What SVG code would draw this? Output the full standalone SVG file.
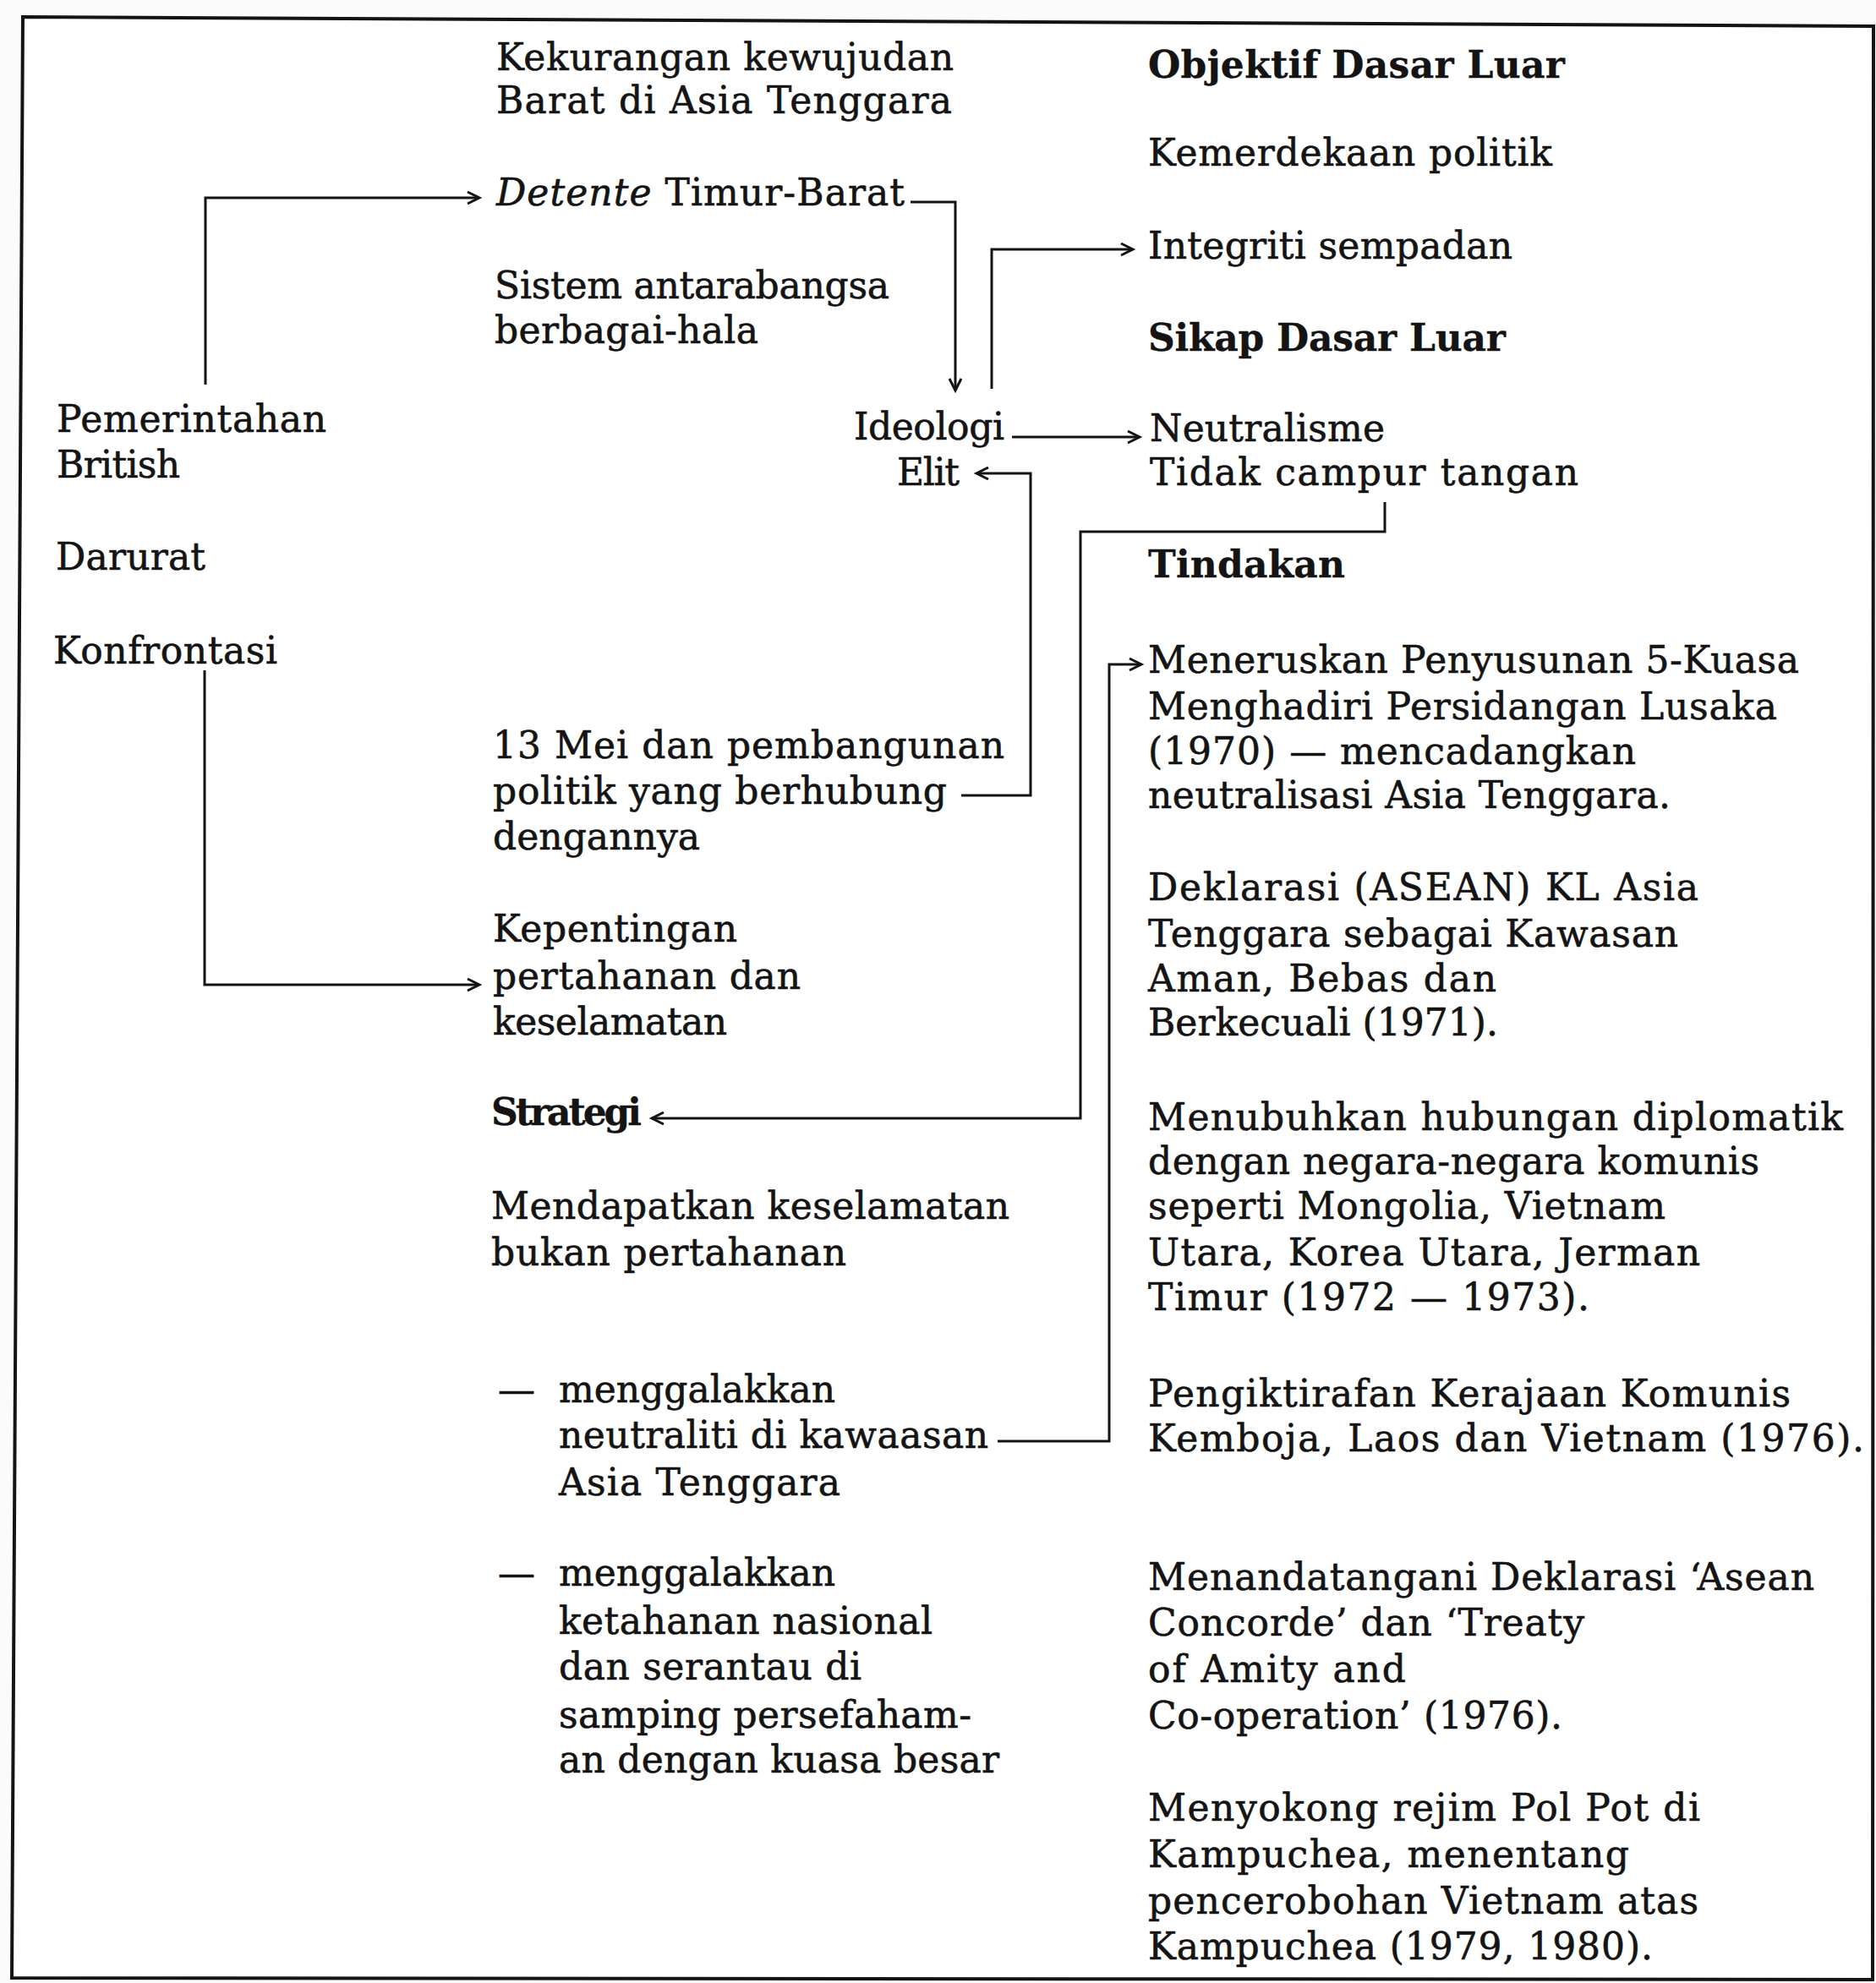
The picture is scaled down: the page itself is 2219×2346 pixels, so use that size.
<svg xmlns="http://www.w3.org/2000/svg" width="2219" height="2346" viewBox="0 0 2219 2346">
<style>
text { font-family: "DejaVu Serif", "Liberation Serif", serif; font-size: 44px; fill: #141414; stroke: #141414; stroke-width: 0.6px; }
.b { font-weight: bold; stroke-width: 0.3px; }
.i { font-style: italic; }
.ln { fill: none; stroke: #141414; stroke-width: 3; }
.frame { fill: #ffffff; stroke: #141414; stroke-width: 4; }
</style>
<defs>
<marker id="arr" markerUnits="userSpaceOnUse" markerWidth="20" markerHeight="20" refX="16" refY="10" orient="auto">
<path d="M2,3 L16,10 L2,17" fill="none" stroke="#141414" stroke-width="3"/>
</marker>
</defs>
<rect x="0" y="0" width="2219" height="2346" fill="#fbfbfb"/>
<path class="frame" d="M27,20 L2216,31 L2215,2342 L14,2340 Z"/>

<g id="connectors">
<path class="ln" d="M243,455 V234 H567" marker-end="url(#arr)"/>
<path class="ln" d="M1077,239 H1130 V462" marker-end="url(#arr)"/>
<path class="ln" d="M1173,460 V295 H1340" marker-end="url(#arr)"/>
<path class="ln" d="M1197,517 H1348" marker-end="url(#arr)"/>
<path class="ln" d="M1137,941 H1219 V560 H1155" marker-end="url(#arr)"/>
<path class="ln" d="M1638,594 V629 H1278 V1323 H771" marker-end="url(#arr)"/>
<path class="ln" d="M242,793 V1165 H567" marker-end="url(#arr)"/>
<path class="ln" d="M1180,1705 H1312 V786 H1350" marker-end="url(#arr)"/>
</g>

<g id="n-pemerintahan">
<text x="67" y="511" textLength="319">Pemerintahan</text>
<text x="67" y="565" textLength="146">British</text>
</g>
<g id="n-darurat"><text x="66" y="674" textLength="177">Darurat</text></g>
<g id="n-konfrontasi"><text x="63" y="785" textLength="265">Konfrontasi</text></g>

<g id="n-kekurangan">
<text x="587" y="83" textLength="541">Kekurangan kewujudan</text>
<text x="587" y="134" textLength="539">Barat di Asia Tenggara</text>
</g>
<g id="n-detente"><text x="587" y="243" textLength="483"><tspan class="i">Detente</tspan> Timur-Barat</text></g>
<g id="n-sistem">
<text x="585" y="353" textLength="467">Sistem antarabangsa</text>
<text x="585" y="406" textLength="312">berbagai-hala</text>
</g>
<g id="n-ideologi">
<text x="1010" y="520" textLength="178">Ideologi</text>
<text x="1061" y="574" textLength="74">Elit</text>
</g>
<g id="n-13mei">
<text x="583" y="897" textLength="605">13 Mei dan pembangunan</text>
<text x="583" y="951" textLength="537">politik yang berhubung</text>
<text x="583" y="1005" textLength="245">dengannya</text>
</g>
<g id="n-kepentingan">
<text x="583" y="1114" textLength="289">Kepentingan</text>
<text x="583" y="1170" textLength="364">pertahanan dan</text>
<text x="583" y="1224" textLength="277">keselamatan</text>
</g>
<g id="n-strategi"><text class="b" x="581" y="1331" textLength="178">Strategi</text></g>
<g id="n-mendapatkan">
<text x="581" y="1442" textLength="613">Mendapatkan keselamatan</text>
<text x="581" y="1497" textLength="420">bukan pertahanan</text>
</g>
<g id="n-neutraliti">
<text x="589" y="1659" textLength="33">—</text>
<text x="661" y="1659" textLength="327">menggalakkan</text>
<text x="661" y="1713" textLength="508">neutraliti di kawaasan</text>
<text x="661" y="1769" textLength="333">Asia Tenggara</text>
</g>
<g id="n-ketahanan">
<text x="589" y="1876" textLength="33">—</text>
<text x="661" y="1876" textLength="327">menggalakkan</text>
<text x="661" y="1933" textLength="442">ketahanan nasional</text>
<text x="661" y="1987" textLength="358">dan serantau di</text>
<text x="661" y="2044" textLength="488">samping persefaham-</text>
<text x="661" y="2097" textLength="521">an dengan kuasa besar</text>
</g>

<g id="n-objektif">
<text class="b" x="1358" y="92" textLength="493">Objektif Dasar Luar</text>
<text x="1358" y="196" textLength="478">Kemerdekaan politik</text>
<text x="1358" y="306" textLength="431">Integriti sempadan</text>
</g>
<g id="n-sikap">
<text class="b" x="1358" y="415" textLength="423">Sikap Dasar Luar</text>
<text x="1360" y="522" textLength="278">Neutralisme</text>
<text x="1360" y="574" textLength="507">Tidak campur tangan</text>
</g>
<g id="n-tindakan"><text class="b" x="1358" y="683" textLength="233">Tindakan</text></g>
<g id="n-meneruskan">
<text x="1358" y="796" textLength="770">Meneruskan Penyusunan 5-Kuasa</text>
<text x="1358" y="851" textLength="744">Menghadiri Persidangan Lusaka</text>
<text x="1358" y="904" textLength="577">(1970) — mencadangkan</text>
<text x="1358" y="956" textLength="618">neutralisasi Asia Tenggara.</text>
</g>
<g id="n-deklarasi">
<text x="1358" y="1065" textLength="651">Deklarasi (ASEAN) KL Asia</text>
<text x="1358" y="1120" textLength="627">Tenggara sebagai Kawasan</text>
<text x="1358" y="1173" textLength="412">Aman, Bebas dan</text>
<text x="1358" y="1225" textLength="414">Berkecuali (1971).</text>
</g>
<g id="n-menubuhkan">
<text x="1358" y="1337" textLength="822">Menubuhkan hubungan diplomatik</text>
<text x="1358" y="1389" textLength="723">dengan negara-negara komunis</text>
<text x="1358" y="1442" textLength="612">seperti Mongolia, Vietnam</text>
<text x="1358" y="1497" textLength="653">Utara, Korea Utara, Jerman</text>
<text x="1358" y="1550" textLength="522">Timur (1972 — 1973).</text>
</g>
<g id="n-pengiktirafan">
<text x="1358" y="1664" textLength="760">Pengiktirafan Kerajaan Komunis</text>
<text x="1358" y="1717" textLength="847">Kemboja, Laos dan Vietnam (1976).</text>
</g>
<g id="n-menandatangani">
<text x="1358" y="1881" textLength="788">Menandatangani Deklarasi ‘Asean</text>
<text x="1358" y="1935" textLength="516">Concorde’ dan ‘Treaty</text>
<text x="1358" y="1990" textLength="305">of Amity and</text>
<text x="1358" y="2045" textLength="490">Co-operation’ (1976).</text>
</g>
<g id="n-menyokong">
<text x="1358" y="2154" textLength="653">Menyokong rejim Pol Pot di</text>
<text x="1358" y="2209" textLength="569">Kampuchea, menentang</text>
<text x="1358" y="2264" textLength="651">pencerobohan Vietnam atas</text>
<text x="1358" y="2318" textLength="597">Kampuchea (1979, 1980).</text>
</g>
</svg>
